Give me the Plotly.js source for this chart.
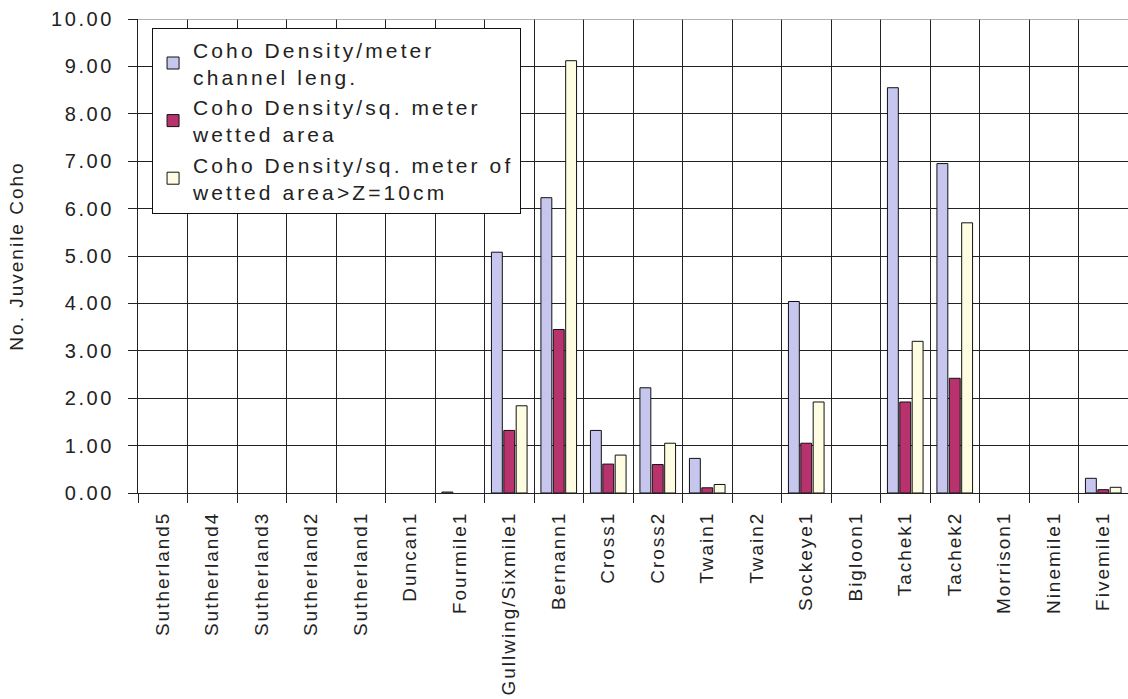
<!DOCTYPE html>
<html>
<head>
<meta charset="utf-8">
<script src="https://cdn.plot.ly/plotly-3.0.1.min.js"></script>
<style>
  html, body { margin: 0; padding: 0; background: #fff; }
  #chart { width: 1128px; height: 699px; }
  .xtick text { letter-spacing: 2px; }
  .ytick text { letter-spacing: 2.6px; }
  .legendtext { letter-spacing: 3.1px; }
  .ytitle { letter-spacing: 2px; }
</style>
</head>
<body>
<div id="chart"></div>
<script>
const categories = ["Sutherland5", "Sutherland4", "Sutherland3", "Sutherland2", "Sutherland1",
  "Duncan1", "Fourmile1", "Gullwing/Sixmile1", "Bernann1", "Cross1", "Cross2", "Twain1",
  "Twain2", "Sockeye1", "Bigloon1", "Tachek1", "Tachek2", "Morrison1", "Ninemile1", "Fivemile1"];

const densityPerMeter = [0, 0, 0, 0, 0, 0, 0.02, 5.08, 6.23, 1.32, 2.22, 0.73, 0, 4.04, 0, 8.55, 6.95, 0, 0, 0.31];
const densityPerSqMeter = [0, 0, 0, 0, 0, 0, 0, 1.32, 3.45, 0.61, 0.60, 0.11, 0, 1.05, 0, 1.92, 2.42, 0, 0, 0.07];
const densityPerSqMeterDeep = [0, 0, 0, 0, 0, 0, 0, 1.84, 9.12, 0.80, 1.05, 0.18, 0, 1.92, 0, 3.20, 5.70, 0, 0, 0.12];

const seriesNames = [
  "Coho Density/meter<br>channel leng.",
  "Coho Density/sq. meter<br>wetted area",
  "Coho Density/sq. meter of<br>wetted area>Z=10cm"
];
const seriesColors = ["#c6c6ee", "#b8336e", "#fefde2"];
const seriesValues = [densityPerMeter, densityPerSqMeter, densityPerSqMeterDeep];

// zero-valued bars are not drawn (no outline on the baseline), as in the original
const traces = seriesValues.map((vals, i) => ({
  type: "bar",
  x: categories,
  y: vals.map(v => (v > 0 ? v : null)),
  name: seriesNames[i],
  marker: { color: seriesColors[i], line: { color: "#111", width: 1 } },
  hoverinfo: "x+y"
}));

const font = "Liberation Sans, Arial, sans-serif";

const layout = {
  width: 1128,
  height: 699,
  margin: { l: 138, r: 0, t: 19, b: 206 },
  paper_bgcolor: "#fff",
  plot_bgcolor: "#fff",
  barmode: "group",
  bargap: 0.25,
  bargroupgap: 0.12,
  font: { family: font, color: "#222", size: 18 },
  showlegend: true,
  legend: {
    x: 0.014, y: 0.981, xanchor: "left", yanchor: "top",
    bgcolor: "#fff", bordercolor: "#111", borderwidth: 1.2,
    font: { family: font, size: 21, color: "#222" },
    tracegroupgap: 6
  },
  xaxis: {
    type: "category",
    range: [-0.5, 19.5],
    tickson: "boundaries",
    ticks: "outside",
    ticklen: 9,
    tickcolor: "#222",
    tickangle: -90,
    ticklabelstandoff: 10,
    showgrid: true,
    gridcolor: "#222",
    gridwidth: 1,
    showline: true,
    linecolor: "#222",
    tickfont: { family: font, size: 19, color: "#222" },
    fixedrange: true
  },
  yaxis: {
    range: [0, 10],
    dtick: 1,
    tick0: 0,
    tickformat: ".2f",
    ticks: "outside",
    ticklen: 9,
    tickcolor: "#222",
    ticklabelstandoff: 10,
    showgrid: true,
    gridcolor: "#222",
    gridwidth: 1,
    zeroline: true,
    zerolinecolor: "#222",
    showline: true,
    linecolor: "#222",
    tickfont: { family: font, size: 20, color: "#222" },
    title: { text: "No. Juvenile Coho", font: { family: font, size: 19, color: "#222" }, standoff: 22 },
    fixedrange: true
  },
  shapes: [
    { type: "line", xref: "paper", yref: "y", x0: 0, x1: 1, y0: 10, y1: 10, line: { color: "#999", width: 1.5 } }
  ]
};

Plotly.newPlot("chart", traces, layout, { displayModeBar: false, staticPlot: true });
</script>
</body>
</html>
